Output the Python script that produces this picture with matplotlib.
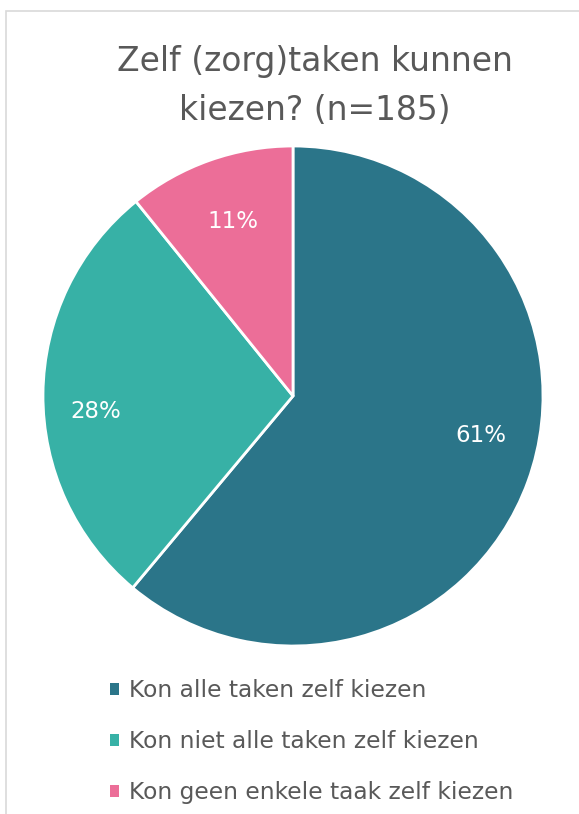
import matplotlib
matplotlib.use("Agg")
import matplotlib.pyplot as plt
from matplotlib.patches import Rectangle, Patch

title = "Zelf (zorg)taken kunnen\nkiezen? (n=185)"
categories = ["Kon alle taken zelf kiezen",
              "Kon niet alle taken zelf kiezen",
              "Kon geen enkele taak zelf kiezen"]
counts = [113, 52, 20]
colors = ["#2B7589", "#37B1A6", "#EC6E98"]

W, H = 579, 814
fig = plt.figure(figsize=(W / 100, H / 100), dpi=100)
fig.patch.set_facecolor("white")

# outer chart border (left and top edges visible)
fig.add_artist(Rectangle((6 / W, -0.05), 1.2, (H - 11) / H + 0.05,
                         transform=fig.transFigure, fill=False,
                         edgecolor="#D9D9D9", linewidth=1.2))

cx, cy, r = 293, 396, 250
ax = fig.add_axes([(cx - r) / W, (H - cy - r) / H, 2 * r / W, 2 * r / H])
wedges, texts, autotexts = ax.pie(
    counts, colors=colors, startangle=90, counterclock=False,
    autopct=lambda p: f"{p:.0f}%", pctdistance=0.77,
    wedgeprops=dict(edgecolor="white", linewidth=2),
    textprops=dict(color="white", fontsize=16.5))
ax.set_xlim(-1, 1)
ax.set_ylim(-1, 1)
ax.set_aspect("equal")
ax.axis("off")

label_pos = [(0.752, -0.16), (-0.788, -0.064), (-0.24, 0.696)]
for t, p in zip(autotexts, label_pos):
    t.set_position(p)
    t.set_va("center")
    t.set_ha("center")

fig.text(315 / W, 1 - 86 / H, title, ha="center", va="center",
         fontsize=23.7, color="#595959", linespacing=1.6)

handles = [Patch(facecolor=c, edgecolor="none") for c in colors]
leg = fig.legend(handles, categories, loc="upper left",
                 bbox_to_anchor=(110 / W, 1 - 679 / H),
                 frameon=False, fontsize=16.8, handlelength=0.4,
                 handleheight=0.4, handletextpad=0.4, labelspacing=1.2,
                 borderpad=0, borderaxespad=0)
for t in leg.get_texts():
    t.set_color("#595959")

fig.savefig("out.png", dpi=100, facecolor="white")
